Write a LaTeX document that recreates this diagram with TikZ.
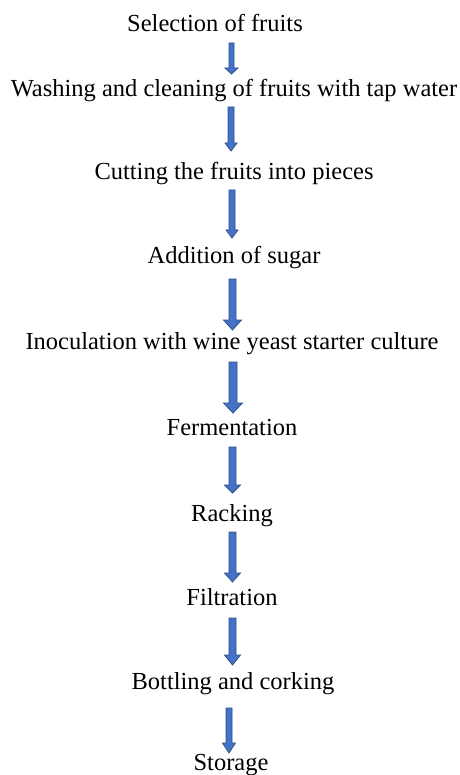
\documentclass[tikz,border=0pt]{standalone}
\usepackage{fontspec}
\newfontfamily\stepfont{LiberationSerif}[Extension=.ttf, UprightFont=*-Regular]
\usetikzlibrary{calc}
\definecolor{arrfill}{HTML}{4472C4}
\definecolor{arrline}{HTML}{2F528F}
\tikzset{
  stepnode/.style={anchor=base, inner sep=0pt, font=\stepfont\fontsize{24.5}{29}\selectfont, text=black},
  blockarr/.style={fill=arrfill, draw=arrline, line width=0.8pt, line join=miter}
}
% #1 top coordinate, #2 tip coordinate, #3 shaft half width, #4 head half width, #5 head length
\newcommand\blockarrow[5]{%
  \draw[blockarr] let \p1=(#1), \p2=(#2) in
    (\x1-#3pt,\y1) -- (\x1+#3pt,\y1) -- (\x1+#3pt,\y2+#5pt) -- (\x1+#4pt,\y2+#5pt)
    -- (\x1,\y2) -- (\x1-#4pt,\y2+#5pt) -- (\x1-#3pt,\y2+#5pt) -- cycle;}
\begin{document}
\begin{tikzpicture}[x=1pt,y=-1pt]
\fill[white] (0,0) rectangle (459,775);
\useasboundingbox (0,0) rectangle (459,775);

\node[stepnode] (s1) at (215,32) {Selection of fruits};
\node[stepnode] (s2) at (234,97) {Washing and cleaning of fruits with tap water};
\node[stepnode] (s3) at (234,180) {Cutting the fruits into pieces};
\node[stepnode] (s4) at (234,264) {Addition of sugar};
\node[stepnode] (s5) at (232,349) {Inoculation with wine yeast starter culture};
\node[stepnode] (s6) at (232,435) {Fermentation};
\node[stepnode] (s7) at (232,521) {Racking};
\node[stepnode] (s8) at (232,605) {Filtration};
\node[stepnode] (s9) at (233,689) {Bottling and corking};
\node[stepnode] (s10) at (231,770) {Storage};

\coordinate (a1t) at (231.5,43);  \coordinate (a1b) at (231.5,74);
\coordinate (a2t) at (231,107);   \coordinate (a2b) at (231,151);
\coordinate (a3t) at (232,190);   \coordinate (a3b) at (232,238);
\coordinate (a4t) at (232.5,279); \coordinate (a4b) at (232.5,330);
\coordinate (a5t) at (233,362);   \coordinate (a5b) at (233,413);
\coordinate (a6t) at (232.5,447); \coordinate (a6b) at (232.5,493);
\coordinate (a7t) at (232.5,532); \coordinate (a7b) at (232.5,582);
\coordinate (a8t) at (232.5,618); \coordinate (a8b) at (232.5,665);
\coordinate (a9t) at (229,708);   \coordinate (a9b) at (229,753);

\blockarrow{a1t}{a1b}{2.5}{6.5}{6}
\blockarrow{a2t}{a2b}{3}{6}{8}
\blockarrow{a3t}{a3b}{3}{6}{8}
\blockarrow{a4t}{a4b}{3.5}{9}{10}
\blockarrow{a5t}{a5b}{4}{9.5}{10}
\blockarrow{a6t}{a6b}{3.5}{8}{8}
\blockarrow{a7t}{a7b}{3.5}{8}{9}
\blockarrow{a8t}{a8b}{3.5}{8}{10}
\blockarrow{a9t}{a9b}{3}{6.5}{10}
\end{tikzpicture}
\end{document}
